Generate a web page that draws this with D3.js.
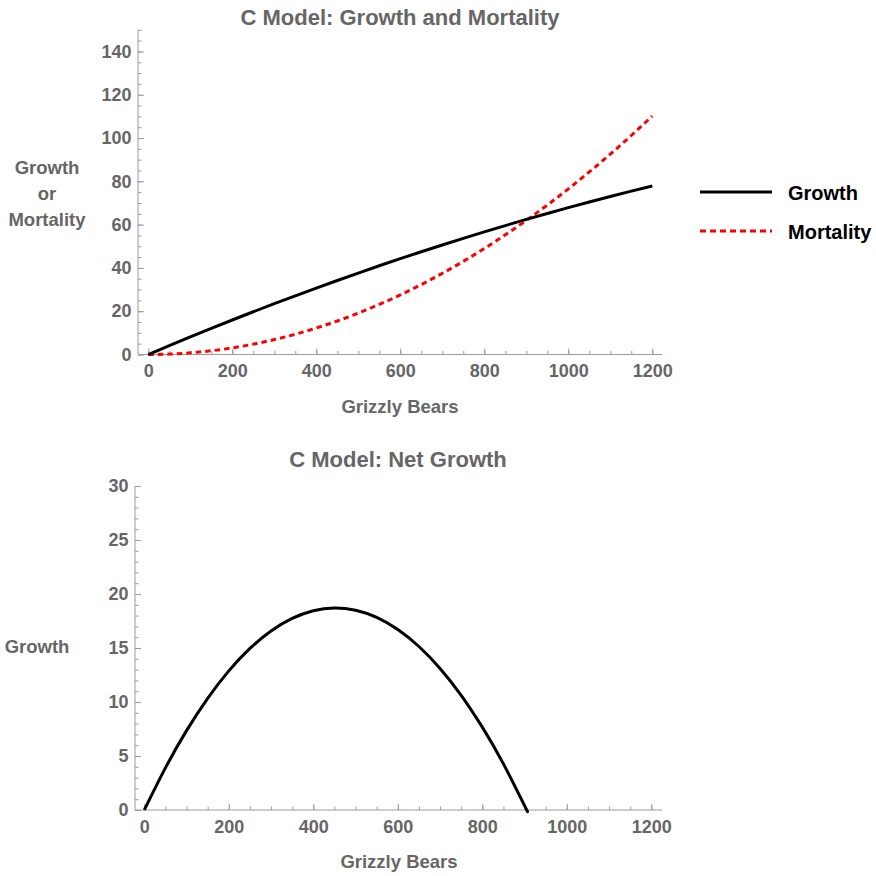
<!DOCTYPE html>
<html>
<head>
<meta charset="utf-8">
<script src="https://cdn.jsdelivr.net/npm/d3@7/dist/d3.min.js"></script>
<style>
  html, body { margin: 0; padding: 0; background: #fff; }
  svg { display: block; }
  text { font-family: "Liberation Sans", Arial, Helvetica, sans-serif; font-weight: bold; }
</style>
</head>
<body>
<svg id="chart" width="876" height="876"></svg>
<script>
// Population sizes (grizzly bears) at which the curves are sampled
const bears = [0, 50, 100, 150, 200, 250, 300, 350, 400, 450, 500, 550, 600,
               650, 700, 750, 800, 850, 900, 950, 1000, 1050, 1100, 1150, 1200];
// Annual growth (births) and mortality for each population size
const growth = [0, 4.10, 8.12, 12.06, 15.94, 19.74, 23.46, 27.11, 30.69, 34.19, 37.63, 40.98, 44.26,
                47.47, 50.60, 53.66, 56.65, 59.56, 62.40, 65.16, 67.85, 70.46, 73.01, 75.48, 77.87];
const mortality = [0, 0.19, 0.77, 1.72, 3.06, 4.78, 6.89, 9.37, 12.24, 15.49, 19.13, 23.14, 27.54,
                   32.32, 37.49, 43.03, 48.96, 55.27, 61.97, 69.04, 76.50, 84.34, 92.57, 101.17, 110.16];
// Net growth (growth minus mortality) up to the equilibrium population
const netBears = [0, 50, 100, 150, 200, 250, 300, 350, 400, 450, 500, 550, 600,
                  650, 700, 750, 800, 850, 900, 905];
const netGrowth = [0, 3.90, 7.35, 10.34, 12.88, 14.96, 16.58, 17.74, 18.45, 18.70, 18.49, 17.83, 16.71,
                   15.14, 13.11, 10.62, 7.67, 4.27, 0.41, 0];

// Tick values
const xMajor = [0, 200, 400, 600, 800, 1000, 1200];
const xMinor = d3.range(0, 1201, 50);
const yTopMajor = [0, 20, 40, 60, 80, 100, 120, 140];
const yTopMinor = d3.range(0, 151, 5);
const yBotMajor = [0, 5, 10, 15, 20, 25, 30];
const yBotMinor = d3.range(0, 31, 1);

const seriesNames = ["Growth", "Mortality"];

const svg = d3.select("#chart");
const GRAY = "#666666";
const AXIS = "#9b9b9b";

function drawAxes(g, x, y, opt) {
  // axis lines
  g.append("line").attr("x1", opt.axisX).attr("x2", opt.axisX)
    .attr("y1", y.range()[1]).attr("y2", y.range()[0])
    .attr("stroke", AXIS).attr("stroke-width", 1);
  g.append("line").attr("x1", opt.axisX).attr("x2", opt.xEnd)
    .attr("y1", y(0)).attr("y2", y(0))
    .attr("stroke", AXIS).attr("stroke-width", 1);

  // x axis: inward ticks, labels below
  const gx = g.append("g").attr("transform", `translate(0,${y(0)})`);
  gx.call(d3.axisBottom(x).tickValues(opt.xMinor).tickSize(-3.5).tickFormat(""));
  gx.select(".domain").remove();
  const gxM = g.append("g").attr("transform", `translate(0,${y(0)})`);
  gxM.call(d3.axisBottom(x).tickValues(opt.xMajor).tickSize(-6).tickPadding(10).tickFormat(d3.format("d")));
  gxM.select(".domain").remove();

  // y axis: inward ticks, labels to the left
  const gy = g.append("g").attr("transform", `translate(${opt.axisX},0)`);
  gy.call(d3.axisLeft(y).tickValues(opt.yMinor).tickSize(-3.5).tickFormat(""));
  gy.select(".domain").remove();
  const gyM = g.append("g").attr("transform", `translate(${opt.axisX},0)`);
  gyM.call(d3.axisLeft(y).tickValues(opt.yMajor).tickSize(-6).tickPadding(opt.yPad).tickFormat(d3.format("d")));
  gyM.select(".domain").remove();

  g.selectAll(".tick line").attr("stroke", AXIS);
  g.selectAll(".tick text")
    .attr("fill", GRAY)
    .style("font-size", "18px")
    .style("font-family", '"Liberation Sans", Arial, sans-serif')
    .style("font-weight", "bold");
}

// ---------- Upper panel: growth and mortality ----------
const xUp = d3.scaleLinear().domain([0, 1200]).range([148.3, 652.3]);
const yUp = d3.scaleLinear().domain([0, 150]).range([354.5, 29.8]);
const upper = svg.append("g");
drawAxes(upper, xUp, yUp, {
  axisX: 138, xEnd: 662, xMajor, xMinor,
  yMajor: yTopMajor, yMinor: yTopMinor, yPad: 6.5
});

const lineUp = d3.line().x(d => xUp(d[0])).y(d => yUp(d[1])).curve(d3.curveNatural);
upper.append("path").datum(d3.zip(bears, mortality))
  .attr("d", lineUp).attr("fill", "none")
  .attr("stroke", "#ff0000").attr("stroke-width", 3).attr("stroke-dasharray", "5.5,4");
upper.append("path").datum(d3.zip(bears, growth))
  .attr("d", lineUp).attr("fill", "none")
  .attr("stroke", "#000").attr("stroke-width", 3);

upper.append("text").attr("x", 400).attr("y", 25).attr("text-anchor", "middle")
  .attr("fill", GRAY).style("font-size", "22px").text("C Model: Growth and Mortality");
upper.append("text").attr("x", 400).attr("y", 413).attr("text-anchor", "middle")
  .attr("fill", GRAY).style("font-size", "18.5px").text("Grizzly Bears");
const yl = upper.append("text").attr("x", 47).attr("text-anchor", "middle")
  .attr("fill", GRAY).style("font-size", "18.5px");
["Growth", "or", "Mortality"].forEach((t, i) => {
  yl.append("tspan").attr("x", 47).attr("y", 174 + i * 26).text(t);
});

// legend
const legend = upper.append("g");
seriesNames.forEach((name, i) => {
  const ly = i === 0 ? 192 : 231;
  legend.append("line").attr("x1", 700).attr("x2", 772).attr("y1", ly).attr("y2", ly)
    .attr("stroke", i === 0 ? "#000" : "#ff0000").attr("stroke-width", 3)
    .attr("stroke-dasharray", i === 0 ? null : "6,4");
  legend.append("text").attr("x", 788).attr("y", ly + 7.5)
    .attr("fill", "#000").style("font-size", "20px").text(name);
});

// ---------- Lower panel: net growth ----------
const xLow = d3.scaleLinear().domain([0, 1200]).range([144.3, 651.3]);
const yLow = d3.scaleLinear().domain([0, 30]).range([810, 486]);
const lower = svg.append("g");
drawAxes(lower, xLow, yLow, {
  axisX: 135, xEnd: 662, xMajor, xMinor,
  yMajor: yBotMajor, yMinor: yBotMinor, yPad: 6.5
});

const lineLow = d3.line().x(d => xLow(d[0])).y(d => yLow(d[1])).curve(d3.curveNatural);
lower.append("path").datum(d3.zip(netBears, netGrowth))
  .attr("d", lineLow).attr("fill", "none")
  .attr("stroke", "#000").attr("stroke-width", 3);

lower.append("text").attr("x", 398).attr("y", 467).attr("text-anchor", "middle")
  .attr("fill", GRAY).style("font-size", "22px").text("C Model: Net Growth");
lower.append("text").attr("x", 399).attr("y", 868).attr("text-anchor", "middle")
  .attr("fill", GRAY).style("font-size", "18.5px").text("Grizzly Bears");
lower.append("text").attr("x", 37).attr("y", 653).attr("text-anchor", "middle")
  .attr("fill", GRAY).style("font-size", "18.5px").text("Growth");
</script>
</body>
</html>
